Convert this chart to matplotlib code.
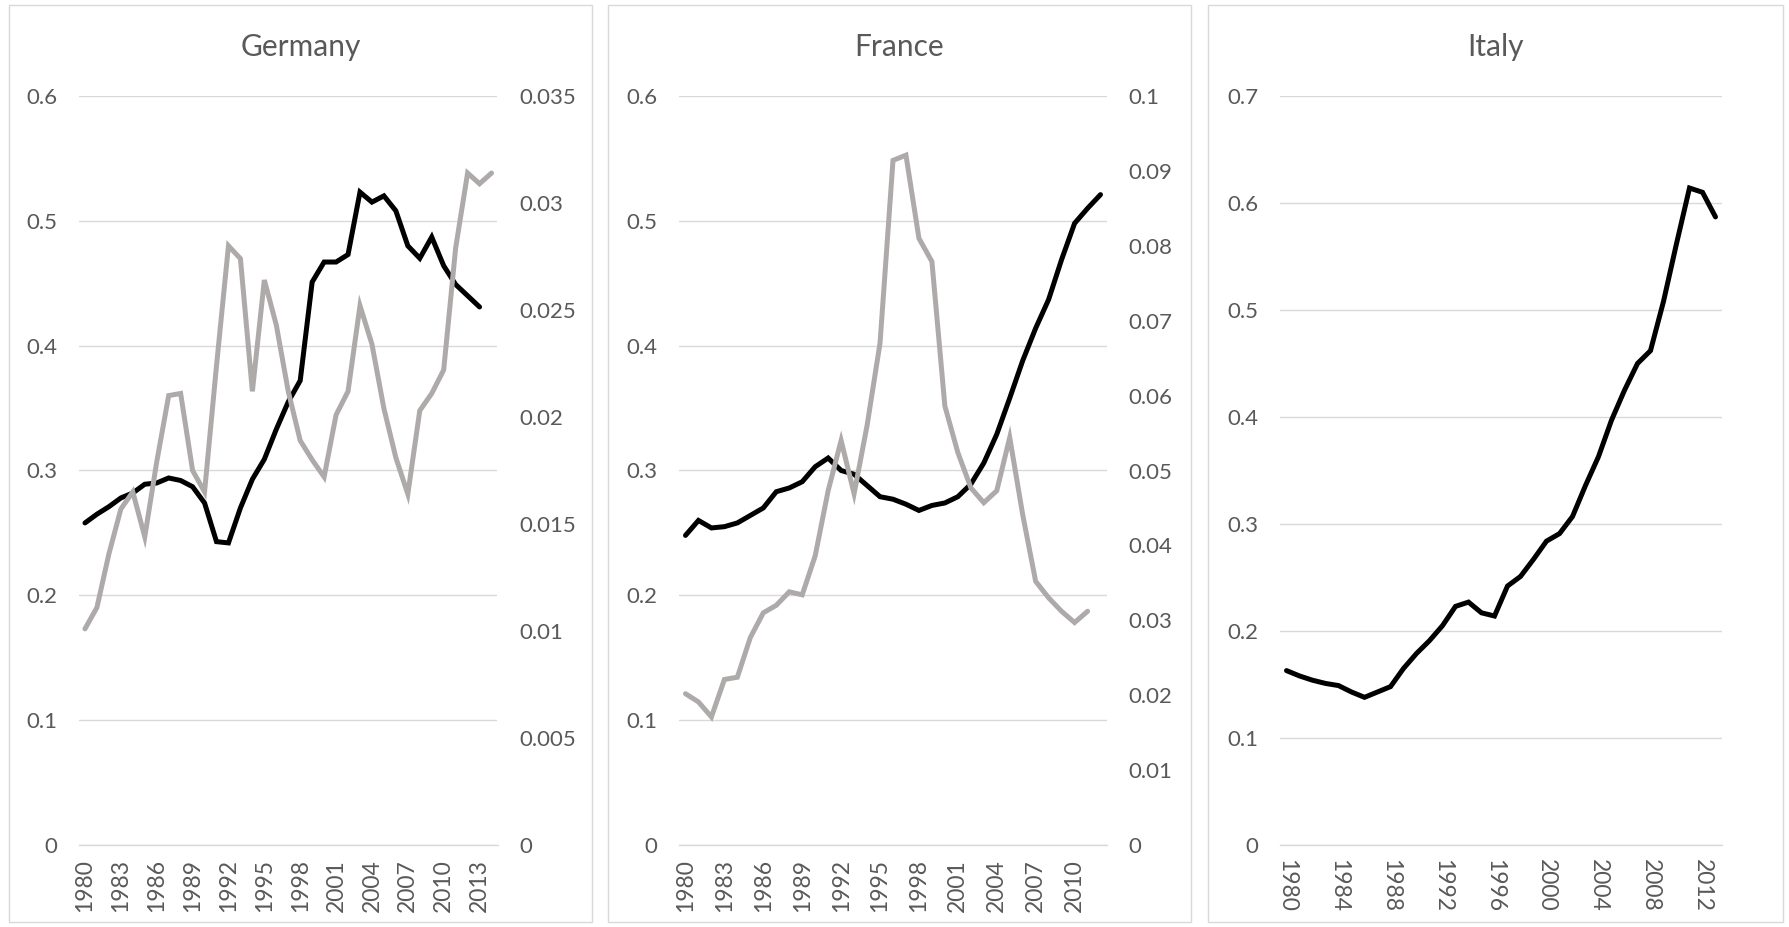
import matplotlib
matplotlib.use('Agg')
import matplotlib.pyplot as plt
from matplotlib.patches import Rectangle

plt.rcParams['font.family'] = ['Lato', 'DejaVu Sans']

BLACK = '#000000'
GREY = '#AEAAAA'
TXT = '#595959'
GRID = '#D9D9D9'

# ---- Germany (black: left axis, grey: right axis)
de_years = list(range(1980, 2015))
de_black = [0.258, 0.265, 0.271, 0.278, 0.282, 0.289, 0.290, 0.294, 0.292, 0.287,
            0.274, 0.243, 0.242, 0.270, 0.293, 0.309, 0.333, 0.355, 0.372, 0.451,
            0.467, 0.467, 0.473, 0.523, 0.515, 0.520, 0.508, 0.480, 0.470, 0.487,
            0.464, 0.449, 0.440, 0.431]
de_grey = [0.0101, 0.0111, 0.0136, 0.0157, 0.0165, 0.0144, 0.0179, 0.0210, 0.0211, 0.0175,
           0.0165, 0.0224, 0.0280, 0.0274, 0.0212, 0.0264, 0.0243, 0.0212, 0.0189, 0.0180,
           0.0172, 0.0201, 0.0212, 0.0252, 0.0234, 0.0204, 0.0181, 0.0164, 0.0203, 0.0211,
           0.0222, 0.0279, 0.0314, 0.0309, 0.0314]
de_left_ticks = [0, 0.1, 0.2, 0.3, 0.4, 0.5, 0.6]
de_right_ticks = [0, 0.005, 0.01, 0.015, 0.02, 0.025, 0.03, 0.035]

# ---- France
fr_years = list(range(1980, 2013))
fr_black = [0.248, 0.260, 0.254, 0.255, 0.258, 0.264, 0.270, 0.283, 0.286, 0.291,
            0.303, 0.310, 0.300, 0.297, 0.288, 0.279, 0.277, 0.273, 0.268, 0.272,
            0.274, 0.279, 0.289, 0.306, 0.329, 0.358, 0.388, 0.414, 0.437, 0.469,
            0.498, 0.510, 0.521]
fr_grey = [0.0202, 0.0191, 0.0171, 0.0221, 0.0224, 0.0277, 0.0310, 0.0320, 0.0338, 0.0334,
           0.0386, 0.0473, 0.0540, 0.0469, 0.0560, 0.0670, 0.0914, 0.0921, 0.0810, 0.0779,
           0.0586, 0.0524, 0.0477, 0.0457, 0.0473, 0.0544, 0.0441, 0.0352, 0.0330, 0.0312,
           0.0297, 0.0312]
fr_left_ticks = [0, 0.1, 0.2, 0.3, 0.4, 0.5, 0.6]
fr_right_ticks = [0, 0.01, 0.02, 0.03, 0.04, 0.05, 0.06, 0.07, 0.08, 0.09, 0.1]

# ---- Italy
it_years = list(range(1980, 2014))
it_black = [0.163, 0.158, 0.154, 0.151, 0.149, 0.143, 0.138, 0.143, 0.148, 0.165,
            0.179, 0.191, 0.205, 0.223, 0.227, 0.217, 0.214, 0.242, 0.251, 0.267,
            0.284, 0.291, 0.307, 0.336, 0.363, 0.397, 0.425, 0.450, 0.462, 0.508,
            0.562, 0.614, 0.610, 0.587]
it_left_ticks = [0, 0.1, 0.2, 0.3, 0.4, 0.5, 0.6, 0.7]

W, H = 1790, 927
fig = plt.figure(figsize=(W / 100, H / 100), dpi=100)

YTICK_FS = 16
XTICK_FS = 16.5
TITLE_FS = 21.5
LW = 3.6


def fx(px):
    return px / W


def fy(px):
    return 1 - px / H


def style_axis(ax, ticks):
    for s in ax.spines.values():
        s.set_visible(False)
    ax.set_yticks(ticks)
    ax.set_yticklabels(['{:g}'.format(t) for t in ticks])
    ax.set_ylim(ticks[0], ticks[-1])
    ax.tick_params(axis='y', length=0, pad=15.5, labelsize=YTICK_FS, labelcolor=TXT)


def panel(box, ax_px, title, years, step, rot, black, left_ticks,
          grey=None, right_ticks=None):
    x0, x1 = box
    fig.patches.append(Rectangle((fx(x0), fy(922)), fx(x1 - x0), (922 - 5) / H,
                                 transform=fig.transFigure, fill=False,
                                 edgecolor=GRID, lw=1.0))
    fig.text(fx((x0 + x1) / 2), fy(56), title, ha='center', va='baseline',
             fontsize=TITLE_FS, color=TXT)
    l, r = ax_px
    ax = fig.add_axes([fx(l), fy(845), fx(r - l), (845 - 96) / H])
    style_axis(ax, left_ticks)
    ax.yaxis.grid(True, color=GRID, lw=1.0)
    ax.set_axisbelow(True)
    ax.spines['bottom'].set_visible(True)
    ax.spines['bottom'].set_color(GRID)
    ax.spines['bottom'].set_linewidth(1.0)
    ax.plot(years[:len(black)], black, color=BLACK, lw=LW,
            solid_joinstyle='miter', solid_capstyle='round', zorder=3)
    ax.set_xlim(years[0] - 0.5, years[-1] + 0.5)
    ax.set_xticks(years[::step])
    ax.set_xticklabels([str(y) for y in years[::step]], rotation=rot)
    ax.tick_params(axis='x', length=0, pad=10, labelsize=XTICK_FS, labelcolor=TXT)
    if grey is not None:
        ax2 = ax.twinx()
        style_axis(ax2, right_ticks)
        ax2.plot(years[:len(grey)], grey, color=GREY, lw=LW,
                 solid_joinstyle='miter', solid_capstyle='round', zorder=3)
        ax2.set_xlim(years[0] - 0.5, years[-1] + 0.5)
    return ax


panel((9, 592), (79, 497.5), 'Germany', de_years, 3, 90,
      de_black, de_left_ticks, de_grey, de_right_ticks)
panel((608, 1191), (679, 1107), 'France', fr_years, 3, 90,
      fr_black, fr_left_ticks, fr_grey, fr_right_ticks)
panel((1208, 1783), (1280, 1722), 'Italy', it_years, 4, -90,
      it_black, it_left_ticks)

fig.savefig('out.png', dpi=100)
